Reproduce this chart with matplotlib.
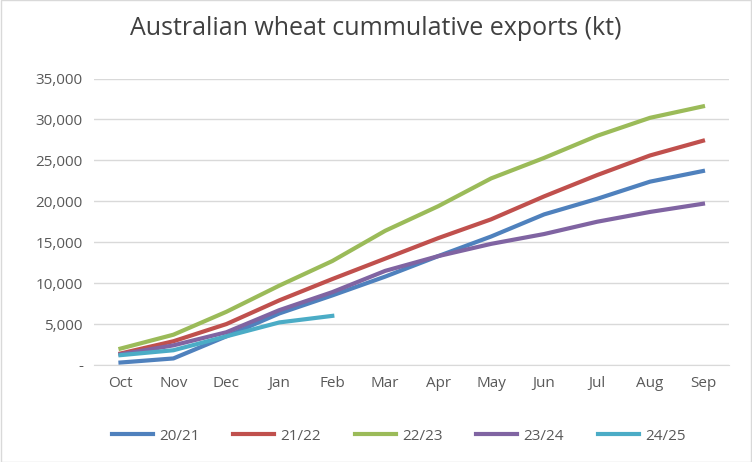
import matplotlib
matplotlib.use('Agg')
import matplotlib.pyplot as plt
from matplotlib.ticker import FuncFormatter

plt.rcParams['font.family'] = ['Open Sans', 'DejaVu Sans']

months = ['Oct', 'Nov', 'Dec', 'Jan', 'Feb', 'Mar', 'Apr', 'May', 'Jun', 'Jul', 'Aug', 'Sep']
s2021 = [300, 800, 3500, 6300, 8500, 10800, 13300, 15700, 18400, 20300, 22400, 23700]
s2122 = [1400, 2900, 5000, 7900, 10500, 13000, 15500, 17800, 20600, 23200, 25600, 27400]
s2223 = [2000, 3700, 6500, 9700, 12700, 16400, 19400, 22800, 25300, 28000, 30200, 31600]
s2324 = [1300, 2400, 4000, 6700, 8900, 11500, 13300, 14800, 16000, 17500, 18700, 19700]
s2425 = [1200, 1800, 3500, 5200, 6000]

series = [('20/21', s2021, '#4F81BD'), ('21/22', s2122, '#C0504D'),
          ('22/23', s2223, '#9BBB59'), ('23/24', s2324, '#8064A2'),
          ('24/25', s2425, '#4BACC6')]

fig = plt.figure(figsize=(7.52, 4.62), dpi=100)
ax = fig.add_axes([0.125, 0.21, 0.845, 0.62])
for name, vals, col in series:
    ax.plot(range(len(vals)), vals, color=col, linewidth=3, label=name)

ax.set_xticks(range(len(months)))
ax.set_xticklabels(months)
ax.set_xlim(-0.5, len(months) - 0.5)
ax.set_ylim(0, 35000)
ax.set_yticks(range(0, 35001, 5000))
ax.yaxis.set_major_formatter(FuncFormatter(lambda v, p: '-' if v == 0 else f'{int(v):,}'))
ax.grid(axis='y', color='#D9D9D9', linewidth=1)
ax.set_axisbelow(True)
for s in ['top', 'right', 'left']:
    ax.spines[s].set_visible(False)
ax.spines['bottom'].set_color('#D9D9D9')
ax.tick_params(length=0, labelsize=11, colors='#595959', pad=8)

fig.suptitle('Australian wheat cummulative exports (kt)', x=0.5, y=0.965,
             fontsize=18, color='#404040')
fig.legend(loc='lower center', ncol=5, frameon=False, fontsize=11,
           bbox_to_anchor=(0.53, 0.01), handlelength=2.7, columnspacing=2.2,
           handletextpad=0.4, labelcolor='#595959')
fig.patches.append(plt.Rectangle((0.001, 0.001), 0.998, 0.998, transform=fig.transFigure,
                                 fill=False, edgecolor='#D9D9D9', linewidth=1))
fig.savefig('out.png', dpi=100)
